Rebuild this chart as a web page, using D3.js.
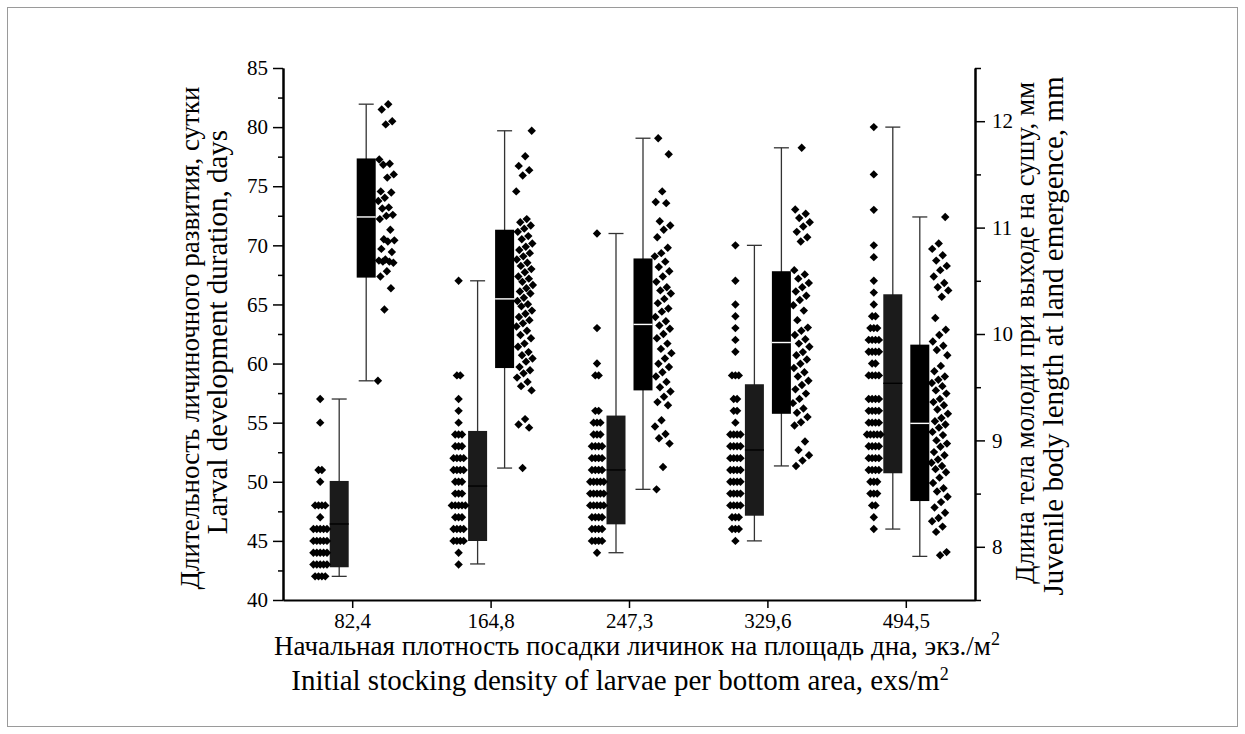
<!DOCTYPE html>
<html><head><meta charset="utf-8">
<script src="https://cdn.jsdelivr.net/npm/d3@7"></script>
<style>
body{margin:0;background:#fff}
svg{display:block}
text{font-family:"Liberation Serif","Times New Roman",serif;fill:#000}
</style>
</head><body>
<svg id="c" width="1245" height="734"></svg>
<script>
// ---------- data ----------
const categories = ["82,4", "164,8", "247,3", "329,6", "494,5"];
const leftTicks = [40, 45, 50, 55, 60, 65, 70, 75, 80, 85];
const rightTicks = [8, 9, 10, 11, 12];

// Larval development duration, days (left axis)
const daysG1 = [57,55,51,51,50,48,48,48,48,47,46,46,46,46,46,45,45,45,45,45,44,44,44,44,44,43,43,43,43,43,42,42,42,42];
const daysG2 = [67,59,59,57,56,55,54,54,54,53,53,53,52,52,52,52,51,51,51,51,50,50,50,49,49,49,48,48,48,48,48,47,47,47,46,46,46,46,45,45,45,45,44,43];
const daysG3 = [71,63,60,59,59,56,56,55,55,55,54,54,54,53,53,53,53,52,52,52,52,51,51,51,51,50,50,50,50,50,49,49,49,49,49,48,48,48,48,48,47,47,47,47,46,46,46,46,45,45,45,45,44];
const daysG4 = [70,67,65,64,63,62,61,59,59,59,57,57,56,56,55,54,54,54,54,53,53,53,53,52,52,52,52,51,51,51,51,50,50,50,50,49,49,49,49,48,48,48,48,47,47,47,46,46,46,45];
const daysG5 = [80,76,73,70,69,67,66,65,64,64,63,63,63,62,62,62,62,61,61,61,61,60,60,59,59,59,59,57,57,57,57,56,56,56,56,55,55,55,55,54,54,54,54,54,53,53,53,53,52,52,52,52,51,51,51,51,50,50,50,49,49,49,48,48,47,46];
const daysMin = [42, 43.05, 44, 45, 46];
const daysQ1  = [42.77, 44.99, 46.4, 47.13, 50.72];
const daysMed = [46.43, 49.64, 51.0, 52.69, 58.33];
const daysQ3  = [50.07, 54.3, 55.6, 58.25, 65.86];
const daysMax = [57, 67, 71, 70, 80];

// Juvenile body length at land emergence, mm (right axis)
const lenG1 = [12.16,12.11,12.00,11.97,11.64,11.60,11.59,11.50,11.47,11.34,11.33,11.28,11.25,11.19,11.18,11.12,11.11,11.08,10.98,10.89,10.88,10.87,10.80,10.77,10.70,10.69,10.68,10.68,10.67,10.59,10.54,10.43,10.23,9.56];
const lenG2 = [11.91,11.67,11.58,11.54,11.49,11.34,11.08,11.05,11.02,10.99,10.96,10.92,10.89,10.85,10.82,10.79,10.76,10.73,10.70,10.67,10.64,10.61,10.58,10.54,10.52,10.49,10.46,10.43,10.40,10.38,10.34,10.31,10.28,10.26,10.22,10.19,10.16,10.13,10.10,10.07,10.03,9.99,9.96,9.91,9.88,9.83,9.80,9.77,9.74,9.69,9.66,9.63,9.59,9.55,9.51,9.47,9.20,9.15,9.12,8.74];
const lenG3 = [11.84,11.69,11.34,11.24,11.23,11.06,11.02,10.98,10.91,10.81,10.76,10.73,10.68,10.63,10.59,10.54,10.49,10.44,10.41,10.38,10.33,10.29,10.24,10.21,10.16,10.12,10.08,10.05,10.00,9.96,9.91,9.86,9.82,9.77,9.72,9.69,9.64,9.60,9.55,9.50,9.46,9.41,9.36,9.33,9.19,9.13,9.06,9.02,8.97,8.75,8.54];
const lenG4 = [11.75,11.17,11.13,11.09,11.05,11.01,10.96,10.91,10.87,10.60,10.56,10.52,10.48,10.44,10.40,10.36,10.32,10.27,10.22,10.13,10.06,10.03,9.99,9.95,9.91,9.88,9.83,9.80,9.76,9.72,9.68,9.64,9.60,9.56,9.52,9.48,9.44,9.39,9.35,9.30,9.26,9.22,9.17,9.14,8.99,8.91,8.86,8.81,8.76];
const lenG5 = [11.10,10.85,10.80,10.74,10.69,10.64,10.60,10.54,10.48,10.44,10.41,10.35,10.15,10.04,9.99,9.93,9.89,9.85,9.80,9.70,9.65,9.60,9.57,9.54,9.51,9.47,9.44,9.39,9.36,9.33,9.29,9.25,9.21,9.18,9.15,9.12,9.08,9.05,9.00,8.97,8.94,8.89,8.86,8.82,8.79,8.76,8.73,8.70,8.65,8.60,8.55,8.52,8.47,8.42,8.37,8.32,8.27,8.24,8.19,8.14,7.95,7.92];
const lenMin = [9.56, 8.74, 8.54, 8.76, 7.91];
const lenQ1  = [10.53, 9.68, 9.47, 9.25, 8.43];
const lenMed = [11.10, 10.33, 10.09, 9.92, 9.16];
const lenQ3  = [11.65, 10.98, 10.71, 10.59, 9.90];
const lenMax = [12.16, 11.91, 11.84, 11.75, 11.10];

const daysPoints = [daysG1, daysG2, daysG3, daysG4, daysG5];
const lenPoints = [lenG1, lenG2, lenG3, lenG4, lenG5];

// ---------- layout ----------
const svg = d3.select("#c");
const W = 1245, H = 734;
const L = 283, R = 975, T = 68, B = 600;

svg.append("rect").attr("x", 7.5).attr("y", 7.5).attr("width", W - 15).attr("height", H - 15)
  .attr("fill", "none").attr("stroke", "#9a9a9a").attr("stroke-width", 1);

const x = d3.scaleLinear().domain([0.5, 5.5]).range([L, R]);
const yL = d3.scaleLinear().domain([40, 85]).range([B, T]);
const yR = d3.scaleLinear().domain([7.5, 12.5]).range([B, T]);

const boxW = 19, capW = 15;
const offL = -13, offR = 14, scatL = -32, scatR = 34;
const diamond = "M0,-4.2L4.2,0L0,4.2L-4.2,0Z";

function drawBox(g, cx, y, mn, q1, md, q3, mx, fill, medColor) {
  g.append("line").attr("x1", cx).attr("x2", cx).attr("y1", y(mn)).attr("y2", y(mx))
    .attr("stroke", "#333").attr("stroke-width", 1.3);
  [mn, mx].forEach(v => g.append("line").attr("x1", cx - capW / 2).attr("x2", cx + capW / 2)
    .attr("y1", y(v)).attr("y2", y(v)).attr("stroke", "#333").attr("stroke-width", 1.3));
  g.append("rect").attr("x", cx - boxW / 2).attr("y", y(q3)).attr("width", boxW)
    .attr("height", y(q1) - y(q3)).attr("fill", fill);
  g.append("line").attr("x1", cx - boxW / 2).attr("x2", cx + boxW / 2)
    .attr("y1", y(md)).attr("y2", y(md)).attr("stroke", medColor).attr("stroke-width", 1.4);
}

const plot = svg.append("g");
categories.forEach((c, i) => {
  const cx = x(i + 1);
  drawBox(plot, cx + offL, yL, daysMin[i], daysQ1[i], daysMed[i], daysQ3[i], daysMax[i], "#1b1b1b", "#000");
  drawBox(plot, cx + offR, yR, lenMin[i], lenQ1[i], lenMed[i], lenQ3[i], lenMax[i], "#000", "#fff");

  // days: rows of equal values spread side by side
  const counts = d3.rollup(daysPoints[i], v => v.length, d => d);
  const seen = new Map();
  daysPoints[i].forEach(v => {
    const n = counts.get(v), k = seen.get(v) || 0; seen.set(v, k + 1);
    const dx = (k - (n - 1) / 2) * 3.4;
    plot.append("path").attr("d", diamond)
      .attr("transform", `translate(${cx + scatL + dx},${yL(v)})`).attr("fill", "#000");
  });
  // length: jittered column
  lenPoints[i].forEach((v, j) => {
    const dx = (((j + 1) * 0.6180339887 + i * 0.3) % 1 - 0.5) * 17;
    plot.append("path").attr("d", diamond)
      .attr("transform", `translate(${cx + scatR + dx},${yR(v)})`).attr("fill", "#000");
  });
});

// ---------- axes ----------
function styleAxis(g) {
  g.select(".domain").attr("stroke", "#000").attr("stroke-width", 2);
  g.selectAll(".tick line").attr("stroke", "#000").attr("stroke-width", 1.5);
  g.selectAll(".tick text").style("font-family", '"Liberation Serif","Times New Roman",serif')
    .style("font-size", "21px").attr("fill", "#000");
}
// minor ticks
svg.append("g").attr("transform", `translate(${L},0)`)
  .call(d3.axisLeft(yL).tickValues(d3.range(42.5, 85, 5)).tickSize(5).tickSizeOuter(0).tickFormat(""))
  .call(styleAxis);
svg.append("g").attr("transform", `translate(${R},0)`)
  .call(d3.axisRight(yR).tickValues(d3.range(7.5, 12.6, 1)).tickSize(6).tickSizeOuter(0).tickFormat(""))
  .call(styleAxis);
// major
svg.append("g").attr("transform", `translate(${L},0)`)
  .call(d3.axisLeft(yL).tickValues(leftTicks).tickSize(10).tickSizeOuter(0).tickPadding(5).tickFormat(d3.format("d")))
  .call(styleAxis);
svg.append("g").attr("transform", `translate(${R},0)`)
  .call(d3.axisRight(yR).tickValues(rightTicks).tickSize(10).tickSizeOuter(0).tickPadding(7).tickFormat(d3.format("d")))
  .call(styleAxis);
svg.append("g").attr("transform", `translate(0,${B})`)
  .call(d3.axisBottom(x).tickValues([1, 2, 3, 4, 5]).tickSize(8).tickSizeOuter(0).tickPadding(5)
    .tickFormat((d, i) => categories[i]))
  .call(styleAxis);

// ---------- titles ----------
const tf = 27, tfE = 29;
function vTitle(xp, yp, txt, fs) {
  svg.append("text").attr("transform", `translate(${xp},${yp}) rotate(-90)`)
    .attr("text-anchor", "middle").style("font-size", fs + "px").text(txt);
}
vTitle(199, 338, "Длительность личиночного развития, сутки", tf);
vTitle(227, 332, "Larval development duration, days", tfE);
vTitle(1034, 333, "Длина тела молоди при выходе на сушу, мм", tf);
vTitle(1063, 336, "Juvenile body length at land emergence, mm", tfE);

function hTitle(xp, yp, main, fs) {
  const t = svg.append("text").attr("x", xp).attr("y", yp).attr("text-anchor", "middle")
    .style("font-size", fs + "px");
  t.append("tspan").text(main);
  t.append("tspan").attr("dy", -10).style("font-size", "18px").text("2");
}
hTitle(637, 655, "Начальная плотность посадки личинок на площадь дна, экз./м", tf);
hTitle(620, 690, "Initial stocking density of larvae per bottom area, exs/m", tfE);
</script>
</body></html>
